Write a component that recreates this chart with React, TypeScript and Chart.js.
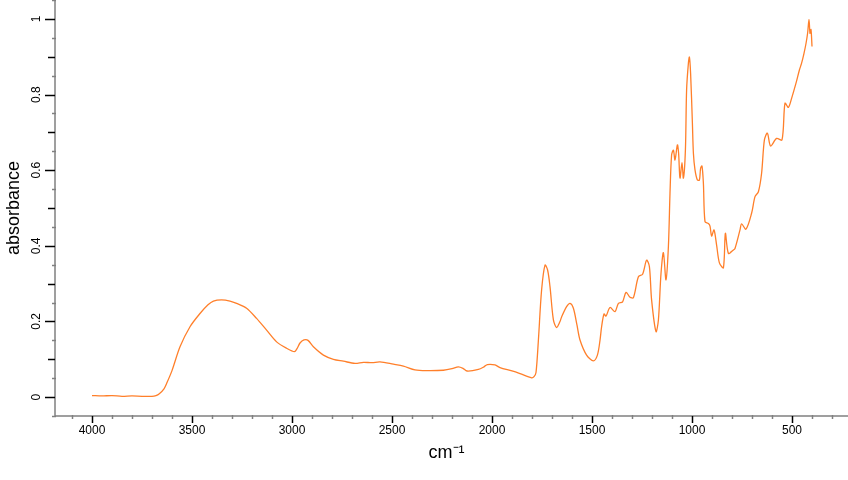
import React, { useEffect, useRef } from "react";
import { Chart, registerables } from "chart.js";

Chart.register(...registerables);

const wavenumbers: number[] = [
  4000, 3950, 3900, 3850, 3800, 3750, 3700, 3680, 3665, 3640, 3627, 3600, 3560, 3510, 3460, 3420, 3393, 3352, 3310, 3277,
  3227, 3177, 3127, 3077, 3027, 2988, 2975, 2960, 2940, 2920, 2893, 2843, 2793, 2743, 2685, 2643, 2600, 2560, 2493, 2443,
  2385, 2327, 2243, 2200, 2168, 2145, 2125, 2068, 2040, 2023, 1985, 1960, 1900, 1860, 1802, 1790, 1780, 1768, 1752, 1735,
  1722, 1710, 1693, 1677, 1660, 1652, 1627, 1610, 1593, 1575, 1560, 1527, 1493, 1473, 1460, 1452, 1440, 1430, 1410, 1385,
  1368, 1347, 1330, 1310, 1293, 1268, 1247, 1227, 1213, 1202, 1180, 1168, 1155, 1143, 1130, 1118, 1110, 1102, 1093, 1085,
  1073, 1067, 1060, 1050, 1043, 1033, 1027, 1018, 1013, 1007, 998, 993, 985, 973, 963, 957, 950, 943, 935, 918,
  910, 902, 890, 877, 863, 843, 833, 818, 793, 785, 760, 752, 730, 702, 685, 668, 652, 638, 623, 607,
  577, 550, 535, 518, 502, 480, 463, 452, 440, 430, 422, 415, 410, 405, 400,
];

const absorbance: number[] = [
  0.004, 0.003, 0.004, 0.002, 0.003, 0.002, 0.002, 0.004, 0.008, 0.022, 0.036, 0.07, 0.133, 0.186, 0.221, 0.244, 0.254, 0.257, 0.254, 0.248,
  0.235, 0.208, 0.177, 0.146, 0.129, 0.12, 0.128, 0.143, 0.151, 0.15, 0.133, 0.111, 0.1, 0.095, 0.089, 0.092, 0.091, 0.093, 0.087, 0.082,
  0.072, 0.07, 0.071, 0.075, 0.08, 0.076, 0.069, 0.073, 0.08, 0.086, 0.085, 0.078, 0.069, 0.062, 0.051, 0.054, 0.065, 0.151, 0.283, 0.349,
  0.336, 0.292, 0.204, 0.184, 0.2, 0.212, 0.239, 0.248, 0.235, 0.19, 0.151, 0.111, 0.096, 0.111, 0.15, 0.186, 0.22, 0.214, 0.237, 0.226,
  0.248, 0.252, 0.277, 0.264, 0.263, 0.318, 0.325, 0.362, 0.345, 0.257, 0.173, 0.204, 0.327, 0.382, 0.31, 0.398, 0.539, 0.64, 0.653, 0.627,
  0.667, 0.645, 0.579, 0.62, 0.579, 0.653, 0.812, 0.883, 0.899, 0.856, 0.724, 0.645, 0.601, 0.574, 0.574, 0.605, 0.611, 0.565, 0.464, 0.459,
  0.452, 0.426, 0.442, 0.402, 0.355, 0.342, 0.433, 0.38, 0.389, 0.393, 0.442, 0.458, 0.444, 0.486, 0.53, 0.543, 0.592, 0.68, 0.698, 0.664,
  0.684, 0.68, 0.777, 0.766, 0.79, 0.83, 0.865, 0.883, 0.909, 0.935, 0.962, 0.999, 0.962, 0.972, 0.927,
];

const xMajorTicks: number[] = [4000, 3500, 3000, 2500, 2000, 1500, 1000, 500];
const yMajorTicks: number[] = [0, 0.2, 0.4, 0.6, 0.8, 1];
const xTitle = "cm⁻¹";
const yTitle = "absorbance";

const FONT = '"Liberation Sans", Arial, sans-serif';

const axesPlugin = {
  id: "customAxes",
  afterDraw(chart: any) {
    const ctx = chart.ctx;
    const { left, right, top, bottom } = chart.chartArea;
    const xs = chart.scales.x;
    const ys = chart.scales.y;
    ctx.save();
    // axis lines
    ctx.strokeStyle = "#808080";
    ctx.lineWidth = 1.5;
    ctx.beginPath();
    ctx.moveTo(left, top);
    ctx.lineTo(left, bottom);
    ctx.lineTo(right, bottom);
    ctx.stroke();

    // y ticks
    for (let i = -1; i <= 21; i++) {
      const v = i * 0.05;
      if (v < ys.min - 1e-9 || v > ys.max + 1e-9) continue;
      const py = Math.round(ys.getPixelForValue(v)) + 0.5;
      if (i % 4 === 0) {
        ctx.strokeStyle = "#000";
        ctx.lineWidth = 1.5;
        ctx.beginPath();
        ctx.moveTo(left - 10, py);
        ctx.lineTo(left, py);
        ctx.stroke();
      } else if (i % 2 === 0) {
        ctx.strokeStyle = "#000";
        ctx.lineWidth = 1.5;
        ctx.beginPath();
        ctx.moveTo(left - 7, py);
        ctx.lineTo(left, py);
        ctx.stroke();
      } else {
        ctx.strokeStyle = "#808080";
        ctx.lineWidth = 1.5;
        ctx.beginPath();
        ctx.moveTo(left - 3, py);
        ctx.lineTo(left + 1, py);
        ctx.stroke();
      }
    }
    // y labels
    ctx.fillStyle = "#000";
    ctx.font = `12px ${FONT}`;
    ctx.textAlign = "center";
    ctx.textBaseline = "middle";
    for (const v of yMajorTicks) {
      const py = ys.getPixelForValue(v);
      ctx.save();
      ctx.translate(left - 18, py);
      ctx.rotate(-Math.PI / 2);
      ctx.fillText(String(v), 0, 0);
      ctx.restore();
    }

    // x ticks
    for (let w = 4200; w >= 200; w -= 100) {
      if (w < xs.min || w > xs.max) continue;
      const px = Math.round(xs.getPixelForValue(w)) + 0.5;
      if (w % 500 === 0) {
        ctx.strokeStyle = "#000";
        ctx.lineWidth = 1.5;
        ctx.beginPath();
        ctx.moveTo(px, bottom);
        ctx.lineTo(px, bottom + 7);
        ctx.stroke();
      } else {
        ctx.strokeStyle = "#808080";
        ctx.lineWidth = 1.5;
        ctx.beginPath();
        ctx.moveTo(px, bottom - 1);
        ctx.lineTo(px, bottom + 3);
        ctx.stroke();
      }
    }
    ctx.fillStyle = "#000";
    ctx.font = `12px ${FONT}`;
    ctx.textAlign = "center";
    ctx.textBaseline = "middle";
    for (const w of xMajorTicks) {
      const px = xs.getPixelForValue(w);
      ctx.fillText(String(w), px, bottom + 15);
    }

    // titles
    ctx.font = `18px ${FONT}`;
    ctx.fillText(xTitle, (left + right) / 2 - 5, bottom + 37);
    ctx.save();
    ctx.translate(14, (top + bottom) / 2);
    ctx.rotate(-Math.PI / 2);
    ctx.fillText(yTitle, 0, 0);
    ctx.restore();
    ctx.restore();
  },
};

export default function App() {
  const canvasRef = useRef<HTMLCanvasElement | null>(null);

  useEffect(() => {
    document.body.style.margin = "0";
    const canvas = canvasRef.current;
    if (!canvas) return;
    const data = wavenumbers.map((w, i) => ({ x: w, y: absorbance[i] }));
    const chart = new Chart(canvas, {
      type: "line",
      data: {
        datasets: [
          {
            data,
            borderColor: "#ff7f2a",
            borderWidth: 1.3,
            pointRadius: 0,
            tension: 0.3,
            fill: false,
          },
        ],
      },
      options: {
        responsive: false,
        animation: false,
        layout: { padding: { left: 55, right: 0, top: 0, bottom: 64 } },
        plugins: { legend: { display: false }, tooltip: { enabled: false } },
        scales: {
          x: { type: "linear", reverse: true, min: 220, max: 4185, display: false },
          y: { type: "linear", min: -0.05, max: 1.05, display: false },
        },
      },
      plugins: [axesPlugin],
    });
    return () => chart.destroy();
  }, []);

  return (
    <div style={{ width: 848, height: 480 }}>
      <canvas ref={canvasRef} width={848} height={480} />
    </div>
  );
}
